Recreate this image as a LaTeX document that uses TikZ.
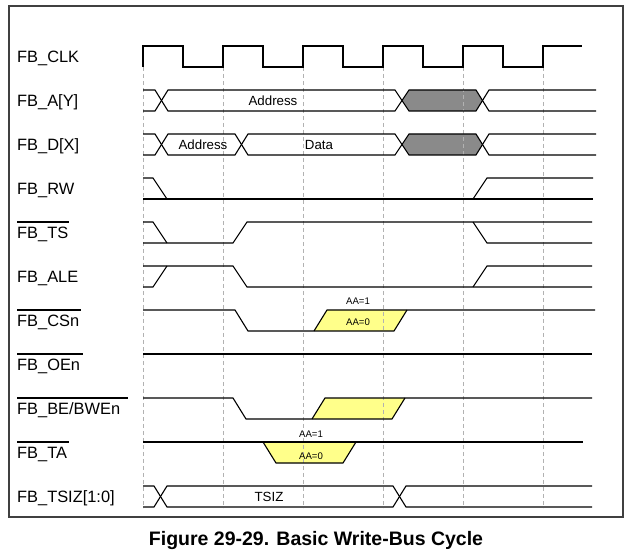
\documentclass[tikz,border=0pt]{standalone}
\usepackage{fontspec}
\setmainfont{Liberation Sans}
\usepackage{tikz}
\definecolor{busgray}{HTML}{8A8A8A}
\definecolor{aayellow}{HTML}{FFFF8A}
\tikzset{
  sig/.style={line width=1.1pt, line join=miter},
  gridline/.style={gray!60, line width=0.6pt, dash pattern=on 4pt off 3pt},
  signame/.style={anchor=base west, inner sep=0pt, font=\fontsize{16.4}{18}\selectfont},
  busval/.style={inner sep=0pt, font=\fontsize{13.3}{15}\selectfont},
  aaval/.style={inner sep=0pt, font=\fontsize{9.6}{11}\selectfont}
}
\begin{document}
\begin{tikzpicture}[x=1pt, y=-1pt]
    \useasboundingbox (0,0) rectangle (633,559);
    \draw [line width=1.4pt, black!75] (9,6) rectangle (623,517);
    \node [signame] (clk) at (17,62.4) {FB\_CLK};
    \node [signame] (addr) at (17,106.4) {FB\_A[Y]};
    \node [signame] (data) at (17,150.4) {FB\_D[X]};
    \node [signame] (rw) at (17,194.4) {FB\_RW};
    \node [signame] (ts) at (17,238.4) {FB\_TS};
    \node [signame] (ale) at (17,282.4) {FB\_ALE};
    \node [signame] (cs) at (17,326.4) {FB\_CSn};
    \node [signame] (oe) at (17,370.4) {FB\_OEn};
    \node [signame] (be) at (17,414.4) {FB\_BE/BWEn};
    \node [signame] (ta) at (17,458.4) {FB\_TA};
    \node [signame] (tsiz) at (17,502.4) {FB\_TSIZ[1:0]};
    \draw [sig] (ts.base west) ++(0,-16.4) -- ++(52,0);
    \draw [sig] (cs.base west) ++(0,-16.4) -- ++(64,0);
    \draw [sig] (oe.base west) ++(0,-16.4) -- ++(66,0);
    \draw [sig] (be.base west) ++(0,-16.4) -- ++(111,0);
    \draw [sig] (ta.base west) ++(0,-16.4) -- ++(52,0);
    \fill [busgray] (402,100.5) -- (409,90) -- (476,90) -- (482.5,100.5) -- (476,111) -- (409,111) -- cycle;
    \fill [busgray] (402,144.5) -- (409,134) -- (476,134) -- (482.5,144.5) -- (476,155) -- (409,155) -- cycle;
    \fill [aayellow] (314,331) -- (327,310) -- (407,310) -- (394,331) -- cycle;
    \fill [aayellow] (312,419) -- (325,398) -- (405,398) -- (392,419) -- cycle;
    \fill [aayellow] (263,442) -- (276,463) -- (343,463) -- (356,442) -- cycle;
    \draw [gridline] (143,67) -- (143,508);
    \draw [gridline] (223,67) -- (223,508);
    \draw [gridline] (303,67) -- (303,508);
    \draw [gridline] (383,67) -- (383,508);
    \draw [gridline] (463,67) -- (463,508);
    \draw [gridline] (543,67) -- (543,508);
    \draw [sig] (143,67) -- (143,46) -- (183,46) -- (183,67) -- (223,67) -- (223,46) -- (263,46) -- (263,67) -- (303,67) -- (303,46) -- (343,46) -- (343,67) -- (383,67) -- (383,46) -- (423,46) -- (423,67) -- (463,67) -- (463,46) -- (503,46) -- (503,67) -- (543,67) -- (543,46) -- (582,46);
    \draw [sig] (143,90) -- (155,90) -- (168,111) -- (395,111) -- (409,90) -- (476,90) -- (489,111) -- (596,111);
    \draw [sig] (143,111) -- (155,111) -- (168,90) -- (395,90) -- (409,111) -- (476,111) -- (489,90) -- (596,90);
    \node [busval] (addrval) at (273,100.5) {Address};
    \draw [sig] (143,134) -- (155,134) -- (168,155) -- (235,155) -- (248,134) -- (395,134) -- (409,155) -- (476,155) -- (489,134) -- (596,134);
    \draw [sig] (143,155) -- (155,155) -- (168,134) -- (235,134) -- (248,155) -- (395,155) -- (409,134) -- (476,134) -- (489,155) -- (596,155);
    \node [busval] (dataaddr) at (203,144.5) {Address};
    \node [busval] (dataval) at (319,144.5) {Data};
    \draw [sig] (143,178) -- (153,178) -- (167,199);
    \draw [sig] (143,199) -- (593,199);
    \draw [sig] (473,199) -- (487,178) -- (593,178);
    \draw [sig] (143,222) -- (153,222) -- (167,243);
    \draw [sig] (143,243) -- (233,243) -- (247,222) -- (592,222);
    \draw [sig] (473,222) -- (487,243) -- (592,243);
    \draw [sig] (143,287) -- (153,287) -- (167,266);
    \draw [sig] (143,266) -- (233,266) -- (247,287) -- (592,287);
    \draw [sig] (473,287) -- (487,266) -- (592,266);
    \draw [sig] (143,310) -- (235,310) -- (248,331) -- (394,331) -- (407,310);
    \draw [sig] (314,331) -- (327,310) -- (595,310);
    \node [aaval] (csone) at (358,301.5) {AA=1};
    \node [aaval] (cszero) at (358,322.5) {AA=0};
    \draw [sig] (143,354) -- (592,354);
    \draw [sig] (143,398) -- (233,398) -- (246,419) -- (392,419) -- (405,398);
    \draw [sig] (312,419) -- (325,398) -- (592,398);
    \draw [sig] (143,442) -- (583,442);
    \draw [sig] (263,442) -- (276,463) -- (343,463) -- (356,442);
    \node [aaval] (taone) at (311,434.5) {AA=1};
    \node [aaval] (tazero) at (311,456) {AA=0};
    \draw [sig] (143,486) -- (154,486) -- (167,507) -- (393,507) -- (406,486) -- (592,486);
    \draw [sig] (143,507) -- (154,507) -- (167,486) -- (393,486) -- (406,507) -- (592,507);
    \node [busval] (tsizval) at (269,497) {TSIZ};
    \node [font=\bfseries\fontsize{19.5}{22}\selectfont] (caption) at (316,541) {Figure 29-29. Basic Write-Bus Cycle};
\end{tikzpicture}
\end{document}
